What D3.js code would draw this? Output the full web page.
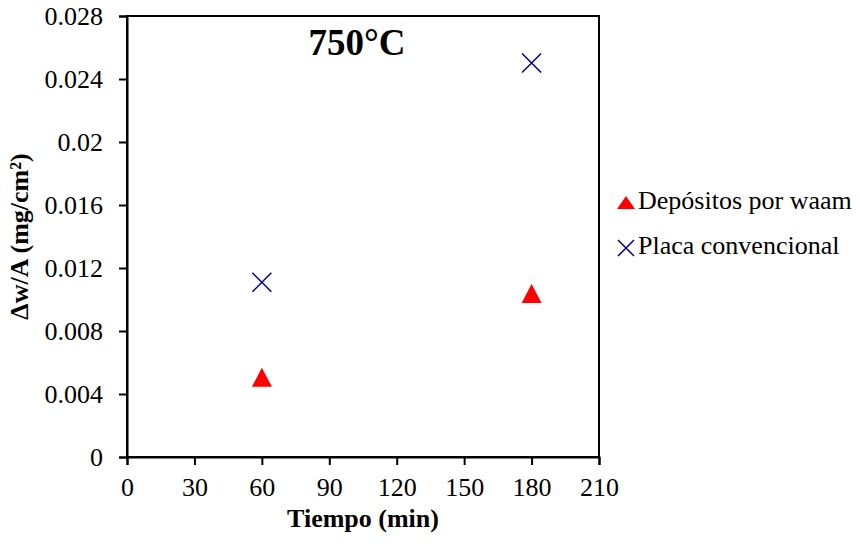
<!DOCTYPE html>
<html>
<head>
<meta charset="utf-8">
<script src="https://cdn.jsdelivr.net/npm/d3@7"></script>
<style>
  body { margin: 0; background: #fff; }
  svg text { font-family: "Liberation Serif", "Times New Roman", serif; fill: #000; }
</style>
</head>
<body>
<div id="chart"></div>
<script>
const xTicks = [0, 30, 60, 90, 120, 150, 180, 210];
const yTicks = [0, 0.004, 0.008, 0.012, 0.016, 0.02, 0.024, 0.028];
const seriesNames = ["Depósitos por waam", "Placa convencional"];
const waamTime = [60, 180];
const waamValues = [0.00506, 0.01038];
const placaTime = [60, 180];
const placaValues = [0.01109, 0.02502];

const width = 860, height = 544;
const margin = { left: 127, right: 261, top: 16, bottom: 87 };

const svg = d3.select("#chart").append("svg")
    .attr("width", width)
    .attr("height", height);

const x = d3.scaleLinear().domain([0, 210]).range([margin.left, width - margin.right]);
const y = d3.scaleLinear().domain([0, 0.028]).range([height - margin.bottom, margin.top]);

// frame
svg.append("rect")
    .attr("x", x(0)).attr("y", y(0.028))
    .attr("width", x(210) - x(0)).attr("height", y(0) - y(0.028))
    .attr("fill", "none").attr("stroke", "#000").attr("stroke-width", 2);

const xAxis = svg.append("g")
    .attr("transform", `translate(0, ${y(0)})`)
    .call(d3.axisBottom(x).tickValues(xTicks).tickSize(8).tickPadding(13).tickFormat(d3.format("d")));
const yAxis = svg.append("g")
    .attr("transform", `translate(${x(0)}, 0)`)
    .call(d3.axisLeft(y).tickValues(yTicks).tickSize(8).tickPadding(16).tickFormat(d => d === 0 ? "0" : d3.format(".3~f")(d)));

[xAxis, yAxis].forEach(a => {
    a.select(".domain").attr("stroke-width", 2);
    a.selectAll(".tick line").attr("stroke-width", 2);
    a.selectAll(".tick text")
        .style("font-family", "'Liberation Serif', serif")
        .style("font-size", "26px")
        .attr("fill", "#000");
});
yAxis.selectAll(".tick text").attr("dy", "0.34em");

svg.append("text")
    .attr("x", 357).attr("y", 55)
    .attr("text-anchor", "middle")
    .style("font-size", "37px").style("font-weight", "bold")
    .text("750°C");

svg.append("text")
    .attr("x", (x(0) + x(210)) / 2).attr("y", 527)
    .attr("text-anchor", "middle")
    .style("font-size", "26px").style("font-weight", "bold")
    .text("Tiempo (min)");

svg.append("text")
    .attr("transform", `translate(28, ${(y(0) + y(0.028)) / 2}) rotate(-90)`)
    .attr("text-anchor", "middle")
    .style("font-size", "26px").style("font-weight", "bold")
    .text("Δw/A (mg/cm²)");

// markers centred on their point, like the spreadsheet ones
const tri = (cx, cy, w, h) => `M${cx},${cy - h / 2}L${cx + w / 2},${cy + h / 2}L${cx - w / 2},${cy + h / 2}Z`;
const cross = (cx, cy, s) => `M${cx - s},${cy - s}L${cx + s},${cy + s}M${cx - s},${cy + s}L${cx + s},${cy - s}`;

svg.append("g").selectAll("path")
    .data(waamTime.map((t, i) => [t, waamValues[i]]))
    .join("path")
    .attr("d", d => tri(x(d[0]), y(d[1]), 20, 19))
    .attr("fill", "#ff0000");

svg.append("g").selectAll("path")
    .data(placaTime.map((t, i) => [t, placaValues[i]]))
    .join("path")
    .attr("d", d => cross(x(d[0]), y(d[1]), 9.5))
    .attr("stroke", "#000080")
    .attr("stroke-width", 1.5)
    .attr("fill", "none");

// legend
const legend = svg.append("g").attr("transform", "translate(626, 0)");
legend.append("path")
    .attr("d", tri(0, 202.5, 18, 13))
    .attr("fill", "#ff0000");
legend.append("path")
    .attr("d", cross(0, 248, 8))
    .attr("stroke", "#000080").attr("stroke-width", 1.5).attr("fill", "none");
legend.selectAll("text.lg")
    .data(seriesNames)
    .join("text")
    .attr("class", "lg")
    .attr("x", 12)
    .attr("y", (d, i) => 209 + i * 45)
    .style("font-size", "26px")
    .text(d => d);
</script>
</body>
</html>
